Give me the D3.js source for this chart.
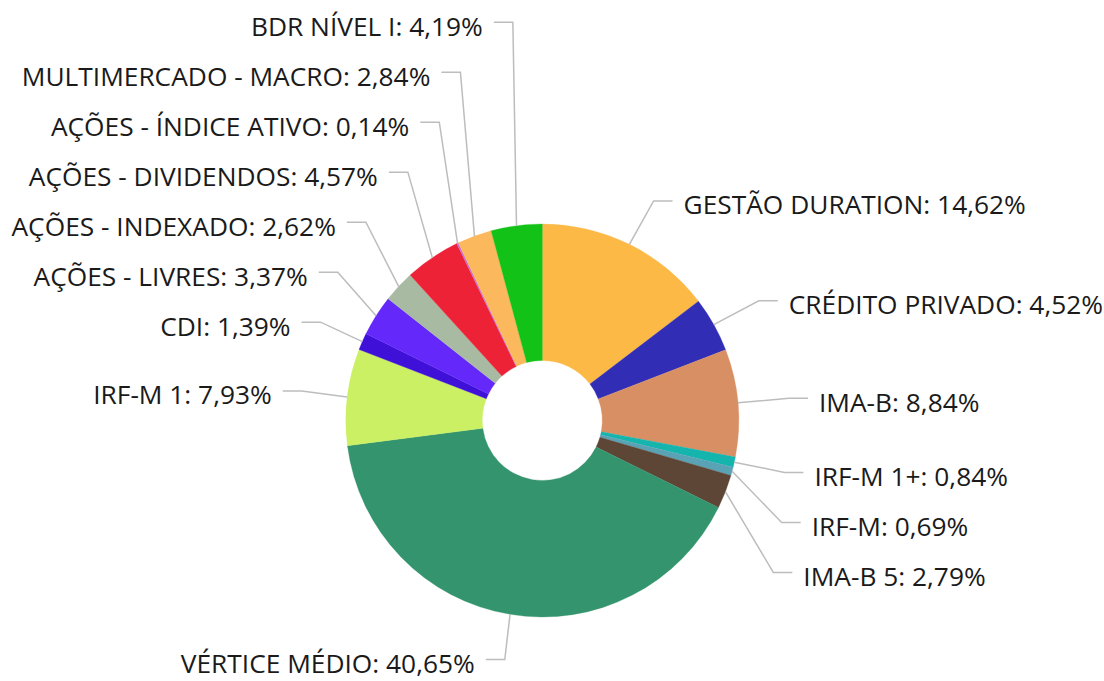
<!DOCTYPE html>
<html>
<head>
<meta charset="utf-8">
<script src="https://cdn.jsdelivr.net/npm/d3@7"></script>
<style>
  html, body { margin: 0; padding: 0; background: #ffffff; }
  svg { display: block; }
</style>
</head>
<body>
<svg id="chart" width="1104" height="681"></svg>
<script>
const categories = [
  "GESTÃO DURATION", "CRÉDITO PRIVADO", "IMA-B", "IRF-M 1+", "IRF-M", "IMA-B 5",
  "VÉRTICE MÉDIO", "IRF-M 1", "CDI", "AÇÕES - LIVRES", "AÇÕES - INDEXADO",
  "AÇÕES - DIVIDENDOS", "AÇÕES - ÍNDICE ATIVO", "MULTIMERCADO - MACRO", "BDR NÍVEL I"
];
const values = [14.62, 4.52, 8.84, 0.84, 0.69, 2.79, 40.65, 7.93, 1.39, 3.37, 2.62, 4.57, 0.14, 2.84, 4.19];
const colors = [
  "#FDB946", "#312EB5", "#D98F64", "#15B5AE", "#5AA3B5", "#5E4637",
  "#33946E", "#CCF063", "#3E10D8", "#6428FA", "#A8BBA2",
  "#EE2236", "#C46FD8", "#FBB85C", "#13C217"
];

const W = 1104, H = 681;
const svg = d3.select("#chart");
const cx = 542.3, cy = 420.5;
const outerR = 196.5, innerR = 60;
const labelR = 245, labelCx = cx + 2.7;
const gap = 50;
const lineLen = 19, textPad = 11;
const fontSize = 26.3;
const baseOff = 13.4;

const data = categories.map((c, i) => ({ name: c, value: values[i], color: colors[i] }));
const pie = d3.pie().sort(null).value(d => d.value);
const arcs = pie(data);
const arc = d3.arc().innerRadius(innerR).outerRadius(outerR);

const g = svg.append("g").attr("transform", `translate(${cx},${cy})`);
g.selectAll("path.slice").data(arcs).join("path")
  .attr("class", "slice")
  .attr("d", arc)
  .attr("fill", d => d.data.color)
  .attr("stroke", d => d.data.color)
  .attr("stroke-width", 0.3);

// label layout
const fmt = v => v.toFixed(2).replace(".", ",") + "%";
const items = arcs.map(a => {
  const m = (a.startAngle + a.endAngle) / 2;
  const s = Math.sin(m), c = Math.cos(m);
  return {
    a, m, s, c,
    side: s >= 0 ? "right" : "left",
    edgeX: cx + outerR * s, edgeY: cy - outerR * c,
    ex: labelCx + labelR * s,
    ey: cy - labelR * c,
    text: a.data.name + ": " + fmt(a.data.value)
  };
});

["left", "right"].forEach(side => {
  const sideItems = items.filter(d => d.side === side);
  const upper = sideItems.filter(d => d.ey < cy).sort((p, q) => q.ey - p.ey);
  for (let i = 1; i < upper.length; i++) {
    upper[i].ey = Math.min(upper[i].ey, upper[i - 1].ey - gap);
  }
  const lower = sideItems.filter(d => d.ey >= cy).sort((p, q) => p.ey - q.ey);
  for (let i = 1; i < lower.length; i++) {
    lower[i].ey = Math.max(lower[i].ey, lower[i - 1].ey + gap);
  }
});
// keep labels inside the canvas (room for descenders)
items.forEach(d => { d.ey = Math.min(d.ey, H - baseOff - 8); });

const lg = svg.append("g");
lg.selectAll("path.conn").data(items).join("path")
  .attr("class", "conn")
  .attr("fill", "none")
  .attr("stroke", "#BDBDBD")
  .attr("stroke-width", 1.5)
  .attr("d", d => {
    const dir = d.side === "right" ? 1 : -1;
    return `M${d.edgeX},${d.edgeY}L${d.ex},${d.ey}L${d.ex + dir * lineLen},${d.ey}`;
  });

lg.selectAll("text.lbl").data(items).join("text")
  .attr("class", "lbl")
  .attr("x", d => d.side === "right" ? d.ex + lineLen + textPad : d.ex - lineLen - textPad)
  .attr("y", d => d.ey + baseOff)
  .attr("text-anchor", d => d.side === "right" ? "start" : "end")
  .attr("font-family", "'Open Sans', 'Noto Sans', sans-serif")
  .attr("font-size", fontSize)
  .attr("fill", "#1a1a1a")
  .text(d => d.text);
</script>
</body>
</html>
